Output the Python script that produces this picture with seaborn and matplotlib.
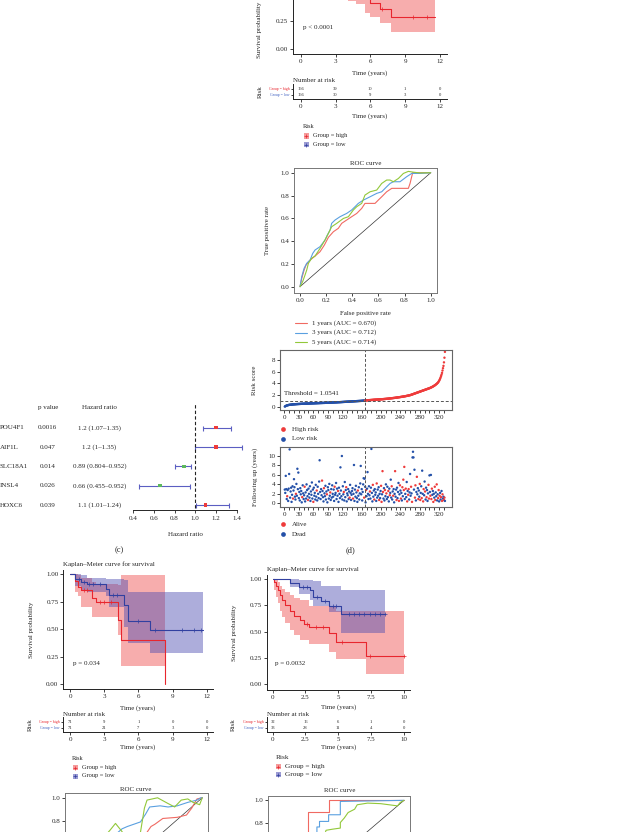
import numpy as np
import pandas as pd
import matplotlib
matplotlib.use('Agg')
import matplotlib.pyplot as plt
from matplotlib.lines import Line2D
from matplotlib.patches import Rectangle
import seaborn as sns

sns.set_style('ticks')
plt.rcParams['font.family'] = ['Liberation Serif', 'DejaVu Serif']
plt.rcParams['font.size'] = 5

# colours
RED = '#e8262e'
BLUE = '#3140a0'
RED_FILL = '#ee4a4a'
BLUE_FILL = '#4b4bb0'
ROC_RED, ROC_BLUE, ROC_GREEN = '#f06a62', '#5aa0e0', '#92c83a'
PT_RED, PT_BLUE = '#ee3b3b', '#2450a8'

# ---------------- KM (training set, top) ----------------
km1_high_t = [0, 0.3, 0.6, 1.0, 1.4, 1.9, 2.4, 3.0, 3.6, 4.1, 4.8, 5.5, 6.0, 6.8, 7.8, 11.6]
km1_high_s = [1.0, 0.97, 0.94, 0.90, 0.86, 0.81, 0.76, 0.70, 0.64, 0.58, 0.53, 0.47, 0.41, 0.36, 0.286, 0.286]
km1_high_lo = [1.0, 0.95, 0.91, 0.86, 0.81, 0.75, 0.69, 0.62, 0.55, 0.43, 0.40, 0.32, 0.29, 0.232, 0.152, 0.152]
km1_high_hi = [1.0, 1.0, 0.99, 0.96, 0.93, 0.89, 0.85, 0.80, 0.75, 0.71, 0.67, 0.62, 0.57, 0.53, 0.48, 0.48]
km1_high_cens = [7.0, 9.7, 10.9]
km1_low_t = [0, 0.5, 1.0, 2.0, 3.0, 4.0, 5.0, 6.0, 7.0, 8.0, 9.0, 10.0, 11.7]
km1_low_s = [1.0, 0.98, 0.96, 0.92, 0.88, 0.84, 0.80, 0.76, 0.73, 0.70, 0.67, 0.65, 0.65]
km1_low_lo = [1.0, 0.96, 0.93, 0.88, 0.83, 0.78, 0.73, 0.68, 0.64, 0.60, 0.56, 0.52, 0.52]
km1_low_hi = [1.0, 1.0, 0.99, 0.96, 0.93, 0.90, 0.87, 0.84, 0.82, 0.80, 0.78, 0.77, 0.77]
km1_low_cens = [2.5, 4.4, 6.3, 8.8, 10.5]
km1_ticks = [0, 3, 6, 9, 12]
km1_risk_high = [166, 39, 10, 1, 0]
km1_risk_low = [166, 30, 9, 3, 0]

# ---------------- ROC (training set) ----------------
roc1_1y_x = [0, 0.013, 0.031, 0.046, 0.077, 0.115, 0.153, 0.186, 0.217, 0.255, 0.293, 0.319, 0.357, 0.395, 0.434,
             0.472, 0.497, 0.574, 0.599, 0.625, 0.663, 0.702, 0.829, 0.842, 0.862, 1.0]
roc1_1y_y = [0, 0.073, 0.146, 0.19, 0.234, 0.269, 0.307, 0.365, 0.433, 0.482, 0.512, 0.556, 0.585, 0.614, 0.643,
             0.687, 0.731, 0.731, 0.76, 0.789, 0.833, 0.863, 0.863, 0.906, 1.0, 1.0]
roc1_3y_x = [0, 0.013, 0.031, 0.051, 0.077, 0.097, 0.115, 0.153, 0.191, 0.209, 0.230, 0.242, 0.268, 0.306, 0.332,
             0.357, 0.395, 0.421, 0.446, 0.485, 0.536, 0.587, 0.625, 0.663, 0.689, 0.714, 0.765, 0.816, 0.855, 0.918, 1.0]
roc1_3y_y = [0, 0.088, 0.161, 0.205, 0.234, 0.292, 0.322, 0.351, 0.409, 0.453, 0.497, 0.556, 0.585, 0.614, 0.629,
             0.643, 0.673, 0.702, 0.731, 0.760, 0.789, 0.819, 0.833, 0.877, 0.906, 0.921, 0.921, 0.965, 0.994, 0.994, 1.0]
roc1_5y_x = [0, 0.020, 0.038, 0.051, 0.064, 0.089, 0.115, 0.153, 0.191, 0.217, 0.242, 0.281, 0.332, 0.370, 0.408,
             0.434, 0.472, 0.497, 0.536, 0.587, 0.625, 0.663, 0.689, 0.714, 0.753, 0.791, 0.829, 0.867, 0.918, 1.0]
roc1_5y_y = [0, 0.044, 0.102, 0.146, 0.205, 0.249, 0.269, 0.336, 0.409, 0.468, 0.526, 0.556, 0.599, 0.614, 0.673,
             0.702, 0.731, 0.804, 0.833, 0.848, 0.906, 0.936, 0.936, 0.921, 0.950, 0.994, 1.012, 1.005, 0.998, 1.0]
roc1_labels = ['1 years (AUC = 0.670)', '3 years (AUC = 0.712)', '5 years (AUC = 0.714)']

# ---------------- risk score / follow up ----------------
risk_low = [0.02, 0.07, 0.12, 0.16, 0.2, 0.23, 0.25, 0.27, 0.29, 0.31,
            0.32, 0.33, 0.34, 0.35, 0.36, 0.37, 0.38, 0.39, 0.4, 0.4,
            0.41, 0.42, 0.42, 0.43, 0.44, 0.44, 0.45, 0.45, 0.46, 0.46,
            0.47, 0.47, 0.48, 0.48, 0.49, 0.49, 0.5, 0.5, 0.5, 0.51,
            0.51, 0.52, 0.52, 0.52, 0.53, 0.53, 0.53, 0.54, 0.54, 0.54,
            0.55, 0.55, 0.55, 0.56, 0.56, 0.56, 0.57, 0.57, 0.57, 0.58,
            0.58, 0.58, 0.59, 0.59, 0.59, 0.6, 0.6, 0.6, 0.61, 0.61,
            0.61, 0.62, 0.62, 0.62, 0.63, 0.63, 0.63, 0.64, 0.64, 0.64,
            0.65, 0.65, 0.65, 0.66, 0.66, 0.66, 0.67, 0.67, 0.67, 0.68,
            0.68, 0.68, 0.69, 0.69, 0.7, 0.7, 0.7, 0.71, 0.71, 0.72,
            0.72, 0.72, 0.73, 0.73, 0.74, 0.74, 0.74, 0.75, 0.75, 0.76,
            0.76, 0.77, 0.77, 0.77, 0.78, 0.78, 0.79, 0.79, 0.8, 0.8,
            0.81, 0.81, 0.82, 0.82, 0.83, 0.83, 0.84, 0.84, 0.85, 0.85,
            0.86, 0.86, 0.87, 0.87, 0.88, 0.88, 0.89, 0.89, 0.9, 0.9,
            0.91, 0.91, 0.92, 0.92, 0.93, 0.93, 0.94, 0.94, 0.95, 0.95,
            0.96, 0.96, 0.97, 0.97, 0.98, 0.98, 0.99, 0.99, 1.0, 1.0,
            1.01, 1.02, 1.02, 1.03, 1.04, 1.05]
risk_high = [1.06, 1.07, 1.08, 1.08, 1.09, 1.1, 1.1, 1.11, 1.12, 1.12,
             1.13, 1.14, 1.14, 1.15, 1.16, 1.16, 1.17, 1.18, 1.18, 1.19,
             1.2, 1.2, 1.21, 1.21, 1.22, 1.22, 1.23, 1.23, 1.24, 1.24,
             1.25, 1.25, 1.26, 1.27, 1.27, 1.28, 1.29, 1.29, 1.3, 1.31,
             1.32, 1.32, 1.33, 1.34, 1.35, 1.35, 1.36, 1.37, 1.38, 1.39,
             1.4, 1.41, 1.42, 1.43, 1.44, 1.45, 1.46, 1.47, 1.48, 1.49,
             1.5, 1.51, 1.52, 1.53, 1.55, 1.56, 1.57, 1.58, 1.6, 1.61,
             1.62, 1.63, 1.64, 1.66, 1.67, 1.68, 1.7, 1.71, 1.72, 1.74,
             1.75, 1.77, 1.78, 1.8, 1.81, 1.83, 1.85, 1.86, 1.88, 1.9,
             1.92, 1.94, 1.96, 1.98, 2.0, 2.03, 2.06, 2.09, 2.12, 2.15,
             2.18, 2.21, 2.24, 2.27, 2.3, 2.33, 2.36, 2.39, 2.42, 2.45,
             2.48, 2.51, 2.54, 2.57, 2.6, 2.63, 2.66, 2.69, 2.72, 2.75,
             2.78, 2.81, 2.84, 2.87, 2.9, 2.93, 2.96, 2.99, 3.02, 3.05,
             3.08, 3.11, 3.14, 3.17, 3.2, 3.24, 3.28, 3.32, 3.36, 3.4,
             3.45, 3.5, 3.55, 3.6, 3.66, 3.72, 3.78, 3.85, 3.92, 4.0,
             4.08, 4.18, 4.3, 4.45, 4.6, 4.8, 5.0, 5.25, 5.5, 5.8,
             6.2, 6.6, 7.0, 7.6, 8.4, 9.4]
threshold = 1.0541

follow_time = [2.9, 2.2, 5.8, 3.0, 0.9, 1.5, 2.8, 0.5, 3.1, 6.2, 11.4, 1.2, 2.5, 3.3, 0.3, 1.8, 3.6, 1.0, 2.7, 5.1,
               3.4, 1.4, 0.8, 2.0, 4.1, 1.6, 7.3, 3.0, 6.5, 1.1, 2.4, 0.6, 3.2, 1.9, 2.6, 0.2, 1.3, 3.8, 2.1, 0.9,
               1.7, 3.5, 0.4, 2.3, 1.0, 4.0, 2.8, 1.5, 0.7, 3.1, 2.0, 1.2, 3.6, 0.5, 2.5, 1.8, 4.4, 1.0, 2.9, 0.3,
               3.3, 1.6, 2.2, 0.8, 3.9, 1.4, 2.7, 0.6, 3.5, 2.0, 1.1, 4.6, 9.1, 2.4, 0.9, 3.0, 1.7, 4.8, 2.6, 1.3,
               0.4, 3.2, 2.1, 1.5, 3.7, 0.8, 2.5, 1.9, 0.2, 3.4, 2.8, 1.0, 4.1, 1.6, 2.3, 0.7, 3.0, 1.2, 3.8, 2.0,
               1.4, 2.9, 0.5, 3.5, 1.8, 2.2, 4.3, 0.9, 3.1, 1.6, 2.6, 0.3, 3.3, 2.0, 1.1, 7.6, 2.7, 1.5, 10.0, 0.8,
               3.6, 1.9, 2.4, 0.6, 4.5, 1.3, 2.8, 3.4, 0.4, 2.1, 1.7, 3.0, 0.9, 2.5, 1.2, 3.9, 2.2, 0.7, 1.8, 2.6,
               3.2, 1.0, 2.0, 8.1, 0.5, 2.9, 1.4, 3.7, 2.3, 1.1, 0.3, 2.7, 1.6, 3.4, 0.8, 2.1, 4.2, 7.9, 1.9, 3.0,
               0.6, 2.4, 4.0, 5.3, 1.2, 5.2, 3.5, 0.2, 2.8, 1.5, 3.1, 6.6, 2.0, 0.9, 3.6, 1.7, 2.5, 1.0, 3.3, 11.5,
               2.2, 0.4, 3.9, 1.4, 2.7, 0.8, 3.0, 1.8, 2.3, 0.5, 4.2, 1.2, 2.9, 1.6, 3.4, 0.7, 2.0, 1.1, 2.6, 3.7,
               0.3, 1.9, 6.8, 2.4, 1.0, 3.2, 0.6, 2.8, 1.5, 4.0, 2.1, 0.9, 3.5, 1.3, 2.6, 0.4, 3.1, 1.7, 2.2, 5.0,
               1.2, 3.6, 0.8, 2.5, 1.6, 3.0, 0.2, 2.0, 6.8, 1.4, 2.9, 0.7, 3.3, 1.1, 2.4, 4.3, 0.5, 1.9, 3.8, 2.7,
               1.0, 2.2, 0.6, 3.4, 1.5, 5.0, 2.8, 7.7, 0.9, 2.0, 3.1, 1.3, 4.5, 0.4, 2.6, 1.8, 3.0, 0.8, 2.3, 6.2,
               1.6, 3.5, 2.1, 0.3, 9.7, 10.9, 9.7, 2.9, 7.1, 1.2, 3.8, 0.6, 2.4, 5.6, 1.9, 3.2, 0.9, 2.7, 1.4, 4.1,
               0.7, 2.2, 3.6, 1.1, 6.9, 2.0, 0.4, 3.0, 1.7, 4.6, 2.5, 0.8, 3.3, 1.3, 2.8, 0.5, 2.1, 3.9, 1.0, 5.9,
               2.4, 1.6, 6.0, 0.9, 3.1, 1.8, 2.6, 0.3, 2.0, 1.2, 3.5, 0.7, 2.3, 1.5, 4.0, 0.6, 1.9, 1.1, 2.8, 0.4,
               1.6, 2.2, 0.8, 1.3, 2.6, 0.5, 1.9, 1.0, 1.4, 0.7, 1.2, 0.5]
# A = alive, D = dead
follow_status = ('DDDDDADDDDDDDDDDDADD' 'DDDADDDDDDDDDDDDADDD' 'DADDDDDDADDDDDDDDDDA' 'DDDDDDADDDDDDDDDDADD'
                 'DADDDDDADDDDDDADDDDD' 'DDDADDDDDDADDDDDDDDD' 'DDADDDDADDDDDDADDDDD' 'DADDDDDDDDDADDDDDDDD'
                 'DDDDADDDADDDDDDDADDD' 'DDADDADDDDADDDDADDDA' 'ADAADDDADDADDDADDADD' 'DADDADDDADDADDDDADAD'
                 'ADDADAAADDADDADAADDD' 'DADADDDDDAADDADDADDA' 'ADDADDAADDADDADDDAAD' 'DADAADDADDAADDADDAAD'
                 'ADDADAADDAAD')
rank_ticks = [0, 30, 60, 90, 120, 160, 200, 240, 280, 320]

# ---------------- forest plot ----------------
genes = ['POU4F1', 'AIF1L', 'SLC18A1', 'INSL4', 'HOXC6']
pvals = ['0.0016', '0.047', '0.014', '0.026', '0.039']
hr = [1.2, 1.2, 0.89, 0.66, 1.1]
hr_lo = [1.07, 1.0, 0.804, 0.455, 1.01]
hr_hi = [1.35, 1.45, 0.96, 0.952, 1.33]
hr_text = ['1.2 (1.07–1.35)', '1.2 (1–1.35)', '0.89 (0.804–0.952)', '0.66 (0.455–0.952)', '1.1 (1.01–1.24)']

# ---------------- KM (validation e) ----------------
kme_high_t = [0, 0.4, 0.7, 1.0, 1.9, 2.3, 4.2, 4.5, 8.3]
kme_high_s = [1.0, 0.94, 0.88, 0.86, 0.78, 0.75, 0.58, 0.40, 0.0]
kme_high_lo = [1.0, 0.84, 0.80, 0.70, 0.61, 0.61, 0.45, 0.16, 0.16]
kme_high_hi = [1.0, 1.0, 0.99, 0.97, 0.93, 0.91, 0.90, 0.99, 0.99]
kme_high_cens = [1.2, 1.5, 2.6, 3.0, 3.6]
kme_low_t = [0, 0.4, 1.0, 1.5, 3.2, 3.4, 4.7, 5.1, 7.0, 11.7]
kme_low_s = [1.0, 0.96, 0.93, 0.91, 0.87, 0.81, 0.72, 0.57, 0.49, 0.49]
kme_low_lo = [1.0, 0.89, 0.86, 0.84, 0.80, 0.70, 0.52, 0.37, 0.28, 0.28]
kme_low_hi = [1.0, 1.0, 0.99, 0.97, 0.96, 0.96, 0.95, 0.84, 0.84, 0.84]
kme_low_cens = [0.8, 1.2, 1.7, 2.0, 2.6, 3.8, 4.1, 6.0, 7.5, 9.8, 10.9, 11.5]
kme_ticks = [0, 3, 6, 9, 12]
kme_risk_high = [71, 9, 1, 0, 0]
kme_risk_low = [71, 21, 7, 3, 0]

# ---------------- KM (validation f) ----------------
kmf_high_t = [0, 0.1, 0.25, 0.4, 0.55, 0.7, 0.9, 1.3, 1.6, 2.1, 2.35, 2.8, 4.3, 4.85, 7.1, 10.0]
kmf_high_s = [1.0, 0.97, 0.94, 0.90, 0.85, 0.80, 0.75, 0.70, 0.65, 0.61, 0.573, 0.54, 0.484, 0.405, 0.268, 0.268]
kmf_high_lo = [1.0, 0.90, 0.83, 0.77, 0.70, 0.64, 0.58, 0.52, 0.47, 0.42, 0.42, 0.38, 0.31, 0.236, 0.10, 0.10]
kmf_high_hi = [1.0, 1.0, 0.99, 0.97, 0.94, 0.91, 0.88, 0.85, 0.82, 0.80, 0.80, 0.745, 0.745, 0.70, 0.70, 0.70]
kmf_high_cens = [2.6, 3.3, 3.8, 5.3, 7.4, 10.0]
kmf_low_t = [0, 1.3, 2.0, 2.85, 3.1, 3.7, 4.3, 5.2, 8.6]
kmf_low_s = [1.0, 0.96, 0.93, 0.90, 0.83, 0.79, 0.745, 0.666, 0.666]
kmf_low_lo = [1.0, 0.93, 0.86, 0.80, 0.745, 0.745, 0.69, 0.49, 0.49]
kmf_low_hi = [1.0, 1.0, 0.99, 0.99, 0.98, 0.94, 0.94, 0.90, 0.90]
kmf_low_cens = [2.3, 2.6, 3.4, 4.0, 4.6, 4.8, 5.8, 6.2, 6.6, 7.0, 7.4, 7.8, 8.2, 8.6]
kmf_ticks = [0, 2.5, 5, 7.5, 10]
kmf_tick_labels = ['0', '2.5', '5', '7.5', '10']
kmf_risk_high = [32, 16, 6, 1, 0]
kmf_risk_low = [33, 28, 11, 4, 0]

# ---------------- ROC (validation e / f), only top part is visible ----------------
roce_1y_x = [0, 0.05, 0.1, 0.2, 0.3, 0.4, 0.5, 0.58, 0.61, 0.64, 0.70, 0.81, 0.88, 0.92, 0.96, 1.0]
roce_1y_y = [0, 0.05, 0.1, 0.2, 0.3, 0.42, 0.55, 0.70, 0.75, 0.77, 0.82, 0.83, 0.85, 0.91, 0.99, 1.0]
roce_3y_x = [0, 0.05, 0.1, 0.2, 0.3, 0.36, 0.39, 0.43, 0.53, 0.57, 0.60, 0.68, 0.74, 0.81, 0.89, 0.96, 0.99, 1.0]
roce_3y_y = [0, 0.1, 0.2, 0.4, 0.6, 0.70, 0.73, 0.75, 0.79, 0.86, 0.92, 0.93, 0.92, 0.93, 0.96, 0.98, 1.0, 1.0]
roce_5y_x = [0, 0.05, 0.1, 0.2, 0.27, 0.30, 0.34, 0.38, 0.42, 0.48, 0.53, 0.56, 0.58, 0.66, 0.74, 0.79, 0.84,
             0.89, 0.93, 0.98, 1.0]
roce_5y_y = [0, 0.15, 0.3, 0.5, 0.68, 0.72, 0.777, 0.72, 0.66, 0.62, 0.70, 0.91, 0.98, 1.0, 0.95, 0.92, 0.98,
             0.99, 0.96, 0.94, 1.0]
rocf_1y_x = [0, 0.02, 0.05, 0.1, 0.2, 0.26, 0.26, 0.42, 0.42, 1.0]
rocf_1y_y = [0, 0.1, 0.3, 0.5, 0.62, 0.65, 0.895, 0.895, 1.0, 1.0]
rocf_3y_x = [0, 0.05, 0.1, 0.2, 0.3, 0.33, 0.33, 0.35, 0.35, 0.42, 0.42, 0.51, 0.51, 1.0]
rocf_3y_y = [0, 0.1, 0.25, 0.45, 0.6, 0.65, 0.76, 0.76, 0.81, 0.81, 0.87, 0.87, 0.99, 1.0]
rocf_5y_x = [0, 0.1, 0.2, 0.3, 0.38, 0.40, 0.45, 0.51, 0.51, 0.54, 0.57, 0.62, 0.64, 0.72, 0.82, 0.95, 0.97, 1.0]
rocf_5y_y = [0, 0.15, 0.3, 0.5, 0.65, 0.73, 0.74, 0.75, 0.80, 0.84, 0.89, 0.92, 0.96, 0.975, 0.97, 0.95, 0.98, 1.0]

# ============================================================
W, H = 624, 832
fig = plt.figure(figsize=(6.24, 8.32), dpi=100)


def box(l, t, r, b):
    return fig.add_axes([l / W, 1 - b / H, (r - l) / W, (b - t) / H])


def put(x, y, s, **kw):
    kw.setdefault('fontsize', 5)
    kw.setdefault('va', 'center')
    fig.text(x / W, 1 - y / H, s, **kw)


def ticks(ax, size=5):
    ax.tick_params(length=2, width=0.6, pad=1.5, labelsize=size, color='#222222')
    ax.set_xlabel('')
    ax.set_ylabel('')


def km(ax, t, s, lo, hi, cens, line, fill, draw_band=True):
    if draw_band:
        ax.fill_between(t, lo, hi, step='post', color=fill, alpha=0.45, lw=0)
        return
    sns.lineplot(x=t, y=s, ax=ax, color=line, lw=0.8, drawstyle='steps-post', estimator=None, sort=False)
    cy = [s[np.searchsorted(t, c, side='right') - 1] for c in cens]
    ax.plot(cens, cy, '+', ms=2.2, mew=0.5, color=line)


def km_axes(l, t, r, b, xlim, ylim, xt, xtl, groups, ylab_x, ptext, pxy, yt=(0, 0.25, 0.5, 0.75, 1.0)):
    ax = box(l, t, r, b)
    for g in groups:
        km(ax, *g, draw_band=True)
    for g in groups:
        km(ax, *g, draw_band=False)
    ax.set_xlim(xlim)
    ax.set_ylim(ylim)
    ax.set_xticks(xt)
    ax.set_xticklabels(xtl)
    ax.set_yticks(list(yt))
    ax.set_yticklabels(['%.2f' % v for v in yt])
    sns.despine(ax=ax)
    for sp in ax.spines.values():
        sp.set_linewidth(0.7)
        sp.set_color('#222222')
    ticks(ax)
    put(ylab_x, max((t + b) / 2, 30), 'Survival probability', rotation=90, ha='center')
    put(pxy[0], pxy[1], ptext, ha='left')
    return ax


def risk_table(l, t, r, b, xlim, xt, xtl, n_high, n_low, ylab_x, fs=3.3):
    ax = box(l, t, r, b)
    ax.set_xlim(xlim)
    ax.set_ylim(0, 1)
    for x, a, c in zip(xt, n_high, n_low):
        ax.text(x, 0.66, str(a), ha='center', va='center', fontsize=fs)
        ax.text(x, 0.26, str(c), ha='center', va='center', fontsize=fs)
    ax.set_xticks(xt)
    ax.set_xticklabels(xtl)
    ax.set_yticks([0.66, 0.26])
    ax.set_yticklabels(['Group = high', 'Group = low'], fontsize=2.8)
    sns.despine(ax=ax)
    for sp in ax.spines.values():
        sp.set_linewidth(0.7)
        sp.set_color('#222222')
    ticks(ax)
    ax.tick_params(axis='y', labelsize=2.8, length=1.5, pad=1)
    ax.get_yticklabels()[0].set_color(RED)
    ax.get_yticklabels()[1].set_color('#4060c0')
    put(ylab_x, (t + b) / 2, 'Risk', rotation=90, ha='center')
    return ax


def km_key(x, y, title, fs=4.6, gap=8.5):
    put(x - 3, y - 9.5, title, ha='left', fontsize=fs)
    for k, (lab, line, fill) in enumerate([('Group = high', RED, RED_FILL), ('Group = low', BLUE, BLUE_FILL)]):
        yy = y + k * gap
        fig.add_artist(Rectangle(((x - 2.5) / W, 1 - (yy + 2.5) / H), 5 / W, 5 / H,
                                 transform=fig.transFigure, fc=fill, alpha=0.55, ec='none'))
        fig.add_artist(Line2D([x / W], [1 - yy / H], marker='+', ms=2.5, mew=0.5, color=line,
                              transform=fig.transFigure))
        put(x + 7, yy, lab, ha='left', fontsize=fs)


def dot_key(x, y, lab, color):
    fig.add_artist(Line2D([x / W], [1 - y / H], marker='o', ms=3.4, color=color, mec='none',
                          transform=fig.transFigure))
    put(x + 8.5, y, lab, ha='left', fontsize=5)


def roc_axes(l, t, r, b, curves, title_xy, ylab_x, yt=(0, 0.2, 0.4, 0.6, 0.8, 1.0), xlabels=True):
    ax = box(l, t, r, b)
    ax.plot([0, 1], [0, 1], color='#333333', lw=0.5)
    for (x, y), c in zip(curves, [ROC_RED, ROC_BLUE, ROC_GREEN]):
        sns.lineplot(x=x, y=y, ax=ax, color=c, lw=0.8, estimator=None, sort=False)
    ax.set_xlim(-0.044, 1.046)
    ax.set_ylim(-0.053, 1.039)
    ax.set_xticks([0, 0.2, 0.4, 0.6, 0.8, 1.0])
    ax.set_yticks(list(yt))
    ax.xaxis.set_major_formatter(matplotlib.ticker.FormatStrFormatter('%.1f'))
    ax.yaxis.set_major_formatter(matplotlib.ticker.FormatStrFormatter('%.1f'))
    for sp in ax.spines.values():
        sp.set_linewidth(0.7)
        sp.set_color('#777777')
    ticks(ax)
    if not xlabels:
        ax.tick_params(axis='x', labelbottom=False)
    put(title_xy[0], title_xy[1], 'ROC curve', ha='center')
    if ylab_x is not None:
        put(ylab_x, (t + b) / 2, 'True positive rate', rotation=90, ha='center')
    return ax


# ---------------- top KM ----------------
g_high = (km1_high_t, km1_high_s, km1_high_lo, km1_high_hi, km1_high_cens, RED, RED_FILL)
g_low = (km1_low_t, km1_low_s, km1_low_lo, km1_low_hi, km1_low_cens, BLUE, BLUE_FILL)
km_axes(293, -68, 447, 54, (-0.66, 12.6), (-0.042, 1.047), km1_ticks, [str(v) for v in km1_ticks],
        [g_high, g_low], 260, 'p < 0.0001', (303, 27), yt=(0, 0.25))
put(370, 73, 'Time (years)', ha='center')
put(293, 81, 'Number at risk', ha='left')
risk_table(293, 84, 447, 98.7, (-0.66, 12.6), km1_ticks, [str(v) for v in km1_ticks],
           km1_risk_high, km1_risk_low, 260)
put(370, 115.7, 'Time (years)', ha='center')
km_key(306, 136, 'Risk')

# ---------------- top ROC ----------------
roc_axes(294.3, 168.3, 436.7, 292.7,
         [(roc1_1y_x, roc1_1y_y), (roc1_3y_x, roc1_3y_y), (roc1_5y_x, roc1_5y_y)], (366, 163.3), 268)
put(365.5, 313, 'False positive rate', ha='center')
for k, (lab, c) in enumerate(zip(roc1_labels, [ROC_RED, ROC_BLUE, ROC_GREEN])):
    yy = 323.3 + k * 9.2
    fig.add_artist(Line2D([295 / W, 307 / W], [1 - yy / H, 1 - yy / H], color=c, lw=0.8,
                          transform=fig.transFigure))
    put(312, yy, lab, ha='left')

# ---------------- risk score ----------------
n_low, n_high = len(risk_low), len(risk_high)
rank = np.arange(1, n_low + n_high + 1)
df_risk = pd.DataFrame({'rank': rank, 'score': risk_low + risk_high,
                        'group': ['Low risk'] * n_low + ['High risk'] * n_high})
ax = box(280, 350, 451.7, 410)
sns.scatterplot(data=df_risk, x='rank', y='score', hue='group', palette={'Low risk': PT_BLUE, 'High risk': PT_RED},
                s=3, linewidth=0, legend=False, ax=ax)
ax.axhline(threshold, color='#555555', lw=0.7, ls=(0, (3, 2)))
ax.axvline(n_low + 0.5, color='#555555', lw=0.7, ls=(0, (3, 2)))
ax.text(0, threshold + 1.25, 'Threshold = 1.0541', ha='left', va='center', fontsize=5)
ax.set_xlim(-8.9, 346)
ax.set_ylim(-0.57, 9.72)
ax.set_xticks(rank_ticks)
ax.set_xticks(np.arange(0, 331, 10), minor=True)
ax.set_yticks([0, 2, 4, 6, 8])
for sp in ax.spines.values():
    sp.set_linewidth(0.8)
    sp.set_color('#666666')
ticks(ax)
ax.tick_params(which='minor', length=2, width=0.6, color='#222222')
put(255, 380, 'Risk score', rotation=90, ha='center')
dot_key(283.3, 429, 'High risk', PT_RED)
dot_key(283.3, 438.7, 'Low risk', PT_BLUE)

# ---------------- follow up ----------------
df_fu = pd.DataFrame({'rank': rank, 'time': follow_time,
                      'status': ['Alive' if c == 'A' else 'Dead' for c in follow_status]})
ax = box(280, 446.7, 451.7, 506.7)
sns.scatterplot(data=df_fu, x='rank', y='time', hue='status', palette={'Alive': PT_RED, 'Dead': PT_BLUE},
                s=3, linewidth=0, legend=False, ax=ax)
ax.axvline(n_low + 0.5, color='#555555', lw=0.7, ls=(0, (3, 2)))
ax.set_xlim(-8.9, 346)
ax.set_ylim(-0.72, 11.97)
ax.set_xticks(rank_ticks)
ax.set_xticks(np.arange(0, 331, 10), minor=True)
ax.set_yticks([0, 2, 4, 6, 8, 10])
for sp in ax.spines.values():
    sp.set_linewidth(0.8)
    sp.set_color('#666666')
ticks(ax)
ax.tick_params(which='minor', length=2, width=0.6, color='#222222')
put(255, 476.7, 'Following up (years)', rotation=90, ha='center')
dot_key(283.3, 524, 'Alive', PT_RED)
dot_key(283.3, 534, 'Dead', PT_BLUE)

# ---------------- forest plot ----------------
rows = np.arange(len(genes), 0, -1)
ax = box(125, 400, 248, 510)
ax.errorbar(hr, rows, xerr=[np.subtract(hr, hr_lo), np.subtract(hr_hi, hr)], fmt='none',
            ecolor='#5b5ec2', elinewidth=0.8, capsize=1.8, capthick=0.8)
pt_col = [PT_RED if v > 1 else '#5cb85c' for v in hr]
sns.scatterplot(x=hr, y=rows, ax=ax, hue=pt_col, palette={c: c for c in set(pt_col)}, marker='s',
                s=6, linewidth=0, legend=False, zorder=3)
ax.axvline(1.0, ymin=0.018, ymax=0.973, color='#222222', lw=0.8, ls=(0, (3, 2)))
ax.set_xlim(0.32, 1.51)
ax.set_ylim(0.74, 6.43)
ax.set_xticks([0.4, 0.6, 0.8, 1.0, 1.2, 1.4])
ax.set_yticks([])
for s in ['top', 'right', 'left']:
    ax.spines[s].set_visible(False)
ax.spines['bottom'].set_bounds(0.4, 1.4)
ax.spines['bottom'].set_linewidth(0.7)
ticks(ax)
ax.tick_params(axis='x', length=2.5)
put(47.7, 407.7, 'p value', ha='center')
put(99.3, 407.7, 'Hazard ratio', ha='center')
for k, g in enumerate(genes):
    yy = 427.7 + k * 19.33
    put(0, yy, g, ha='left')
    put(47.7, yy, pvals[k], ha='center')
    put(99.3, yy, hr_text[k], ha='center')
put(185, 535, 'Hazard ratio', ha='center')
put(119.3, 550, '(c)', ha='center', fontsize=6)
put(350, 550, '(d)', ha='center', fontsize=6)

# ---------------- KM e ----------------
g_high = (kme_high_t, kme_high_s, kme_high_lo, kme_high_hi, kme_high_cens, RED, RED_FILL)
g_low = (kme_low_t, kme_low_s, kme_low_lo, kme_low_hi, kme_low_cens, BLUE, BLUE_FILL)
put(63.3, 564.3, 'Kaplan–Meier curve for survival', ha='left')
km_axes(63.3, 570, 212.7, 689.3, (-0.59, 12.53), (-0.048, 1.039), kme_ticks, [str(v) for v in kme_ticks],
        [g_high, g_low], 31.7, 'p = 0.034', (72.7, 663.3))
put(138, 707.7, 'Time (years)', ha='center')
put(63.3, 714.5, 'Number at risk', ha='left')
risk_table(63.3, 717, 212.7, 731.7, (-0.59, 12.53), kme_ticks, [str(v) for v in kme_ticks],
           kme_risk_high, kme_risk_low, 30)
put(138, 747.3, 'Time (years)', ha='center')
km_key(75, 767.5, 'Risk')

# ---------------- KM f ----------------
g_high = (kmf_high_t, kmf_high_s, kmf_high_lo, kmf_high_hi, kmf_high_cens, RED, RED_FILL)
g_low = (kmf_low_t, kmf_low_s, kmf_low_lo, kmf_low_hi, kmf_low_cens, BLUE, BLUE_FILL)
put(266.7, 569, 'Kaplan–Meier curve for survival', ha='left')
km_axes(266.7, 575, 410, 690, (-0.46, 10.48), (-0.057, 1.041), kmf_ticks, kmf_tick_labels,
        [g_high, g_low], 234.3, 'p = 0.0032', (275, 663.3))
put(338.3, 706.7, 'Time (years)', ha='center')
put(267.2, 714.5, 'Number at risk', ha='left')
risk_table(266.7, 717, 410, 731.7, (-0.46, 10.48), kmf_ticks, kmf_tick_labels,
           kmf_risk_high, kmf_risk_low, 233)
put(338.3, 747.3, 'Time (years)', ha='center')
km_key(278.3, 766.7, 'Risk', fs=5.2, gap=7.8)

# ---------------- ROC e / f (cut by the bottom edge) ----------------
roc_axes(65, 793.3, 208.3, 918.8,
         [(roce_1y_x, roce_1y_y), (roce_3y_x, roce_3y_y), (roce_5y_x, roce_5y_y)], (136, 789.3), None,
         yt=(0.8, 1.0), xlabels=False)
roc_axes(268.3, 796, 410, 917.2,
         [(rocf_1y_x, rocf_1y_y), (rocf_3y_x, rocf_3y_y), (rocf_5y_x, rocf_5y_y)], (340, 790), None,
         yt=(0.8, 1.0), xlabels=False)

fig.savefig('out.png', dpi=100)
